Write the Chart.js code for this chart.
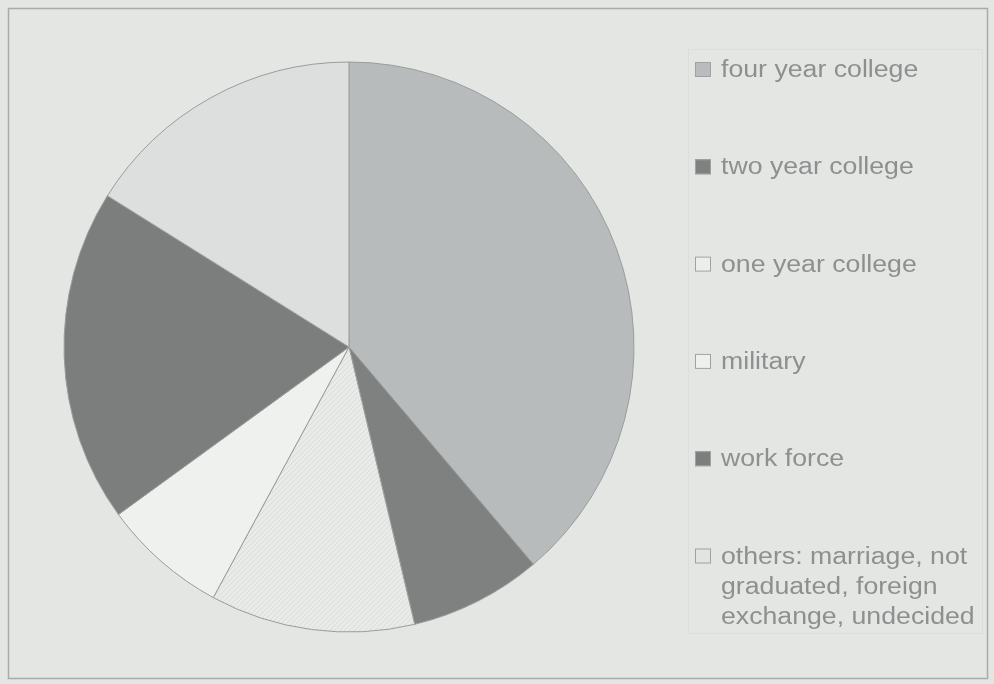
<!DOCTYPE html>
<html>
<head>
<script src="https://cdn.jsdelivr.net/npm/chart.js@4.4.1/dist/chart.umd.min.js"></script>
<style>
  body { margin:0; background:#e4e6e4; }
  #wrap { position:relative; width:994px; height:684px; }
</style>
</head>
<body>
<div id="wrap"><canvas id="myChart" width="994" height="684"></canvas></div>
<script>
  // data (percent of graduates)
  var categories = [
    "four year college",
    "two year college",
    "one year college",
    "military",
    "work force",
    ["others: marriage, not", "graduated, foreign", "exchange, undecided"]
  ];
  var shares = [38.8, 7.5, 11.6, 7.1, 18.9, 16.1];
  var sliceColors = ["#b8bbbb", "#7f8181", "hatch", "#eff1ef", "#7c7e7e", "#dcdfde"];
  var swatchColors = ["#b9bcbc", "#7f8181", "#eceeec", "#eef0ee", "#7c7e7e", "#e2e4e2"];

  // faint diagonal hatch for the one year college slice
  function makeHatch() {
    var c = document.createElement("canvas");
    c.width = 5; c.height = 5;
    var g = c.getContext("2d");
    g.fillStyle = "#e9ebe9";
    g.fillRect(0, 0, 5, 5);
    g.strokeStyle = "#dadcda";
    g.lineWidth = 1;
    g.beginPath();
    g.moveTo(-1, 6); g.lineTo(6, -1);
    g.moveTo(-1, 1); g.lineTo(1, -1);
    g.moveTo(4, 6); g.lineTo(6, 4);
    g.stroke();
    return g.createPattern(c, "repeat");
  }

  var ctx = document.getElementById("myChart").getContext("2d");
  var hatch = makeHatch();
  var fills = sliceColors.map(function(c){ return c === "hatch" ? hatch : c; });

  var framePlugin = {
    id: "frame",
    beforeDraw: function(chart) {
      var g = chart.ctx;
      g.save();
      g.fillStyle = "#e4e6e4";
      g.fillRect(0, 0, 994, 684);
      g.strokeStyle = "#a9abab";
      g.lineWidth = 1.5;
      g.strokeRect(8.5, 8.5, 979, 670);
      g.strokeStyle = "#dcdedc";
      g.lineWidth = 1;
      g.strokeRect(688.5, 49.5, 294, 584);
      g.restore();
    },
    afterDraw: function(chart) {
      // legend on the right
      var g = chart.ctx;
      var labels = chart.data.labels;
      g.save();
      for (var i = 0; i < labels.length; i++) {
        var base = 77 + i * 97.3;
        g.fillStyle = swatchColors[i];
        g.fillRect(695, base - 15, 16, 15);
        g.strokeStyle = "#a0a2a2";
        g.lineWidth = 1;
        g.strokeRect(695.5, base - 14.5, 15, 14);
        var lines = Array.isArray(labels[i]) ? labels[i] : [labels[i]];
        for (var j = 0; j < lines.length; j++) {
          g.save();
          g.translate(721, base + j * 30);
          g.scale(1.16, 1);
          g.fillStyle = "#8e9090";
          g.font = "23px 'Liberation Sans', Arial, sans-serif";
          g.textBaseline = "alphabetic";
          g.fillText(lines[j], 0, 0);
          g.restore();
        }
      }
      g.restore();
    }
  };

  var myPie = new Chart(ctx, {
    type: "pie",
    data: {
      labels: categories,
      datasets: [{
        data: shares,
        backgroundColor: fills,
        borderColor: "#9b9d9d",
        borderWidth: 1,
        hoverOffset: 0
      }]
    },
    options: {
      responsive: false,
      animation: false,
      radius: 285,
      layout: { padding: { left: 64, right: 360, top: 62, bottom: 52 } },
      plugins: {
        legend: { display: false },
        tooltip: { enabled: false }
      }
    },
    plugins: [framePlugin]
  });
</script>
</body>
</html>
